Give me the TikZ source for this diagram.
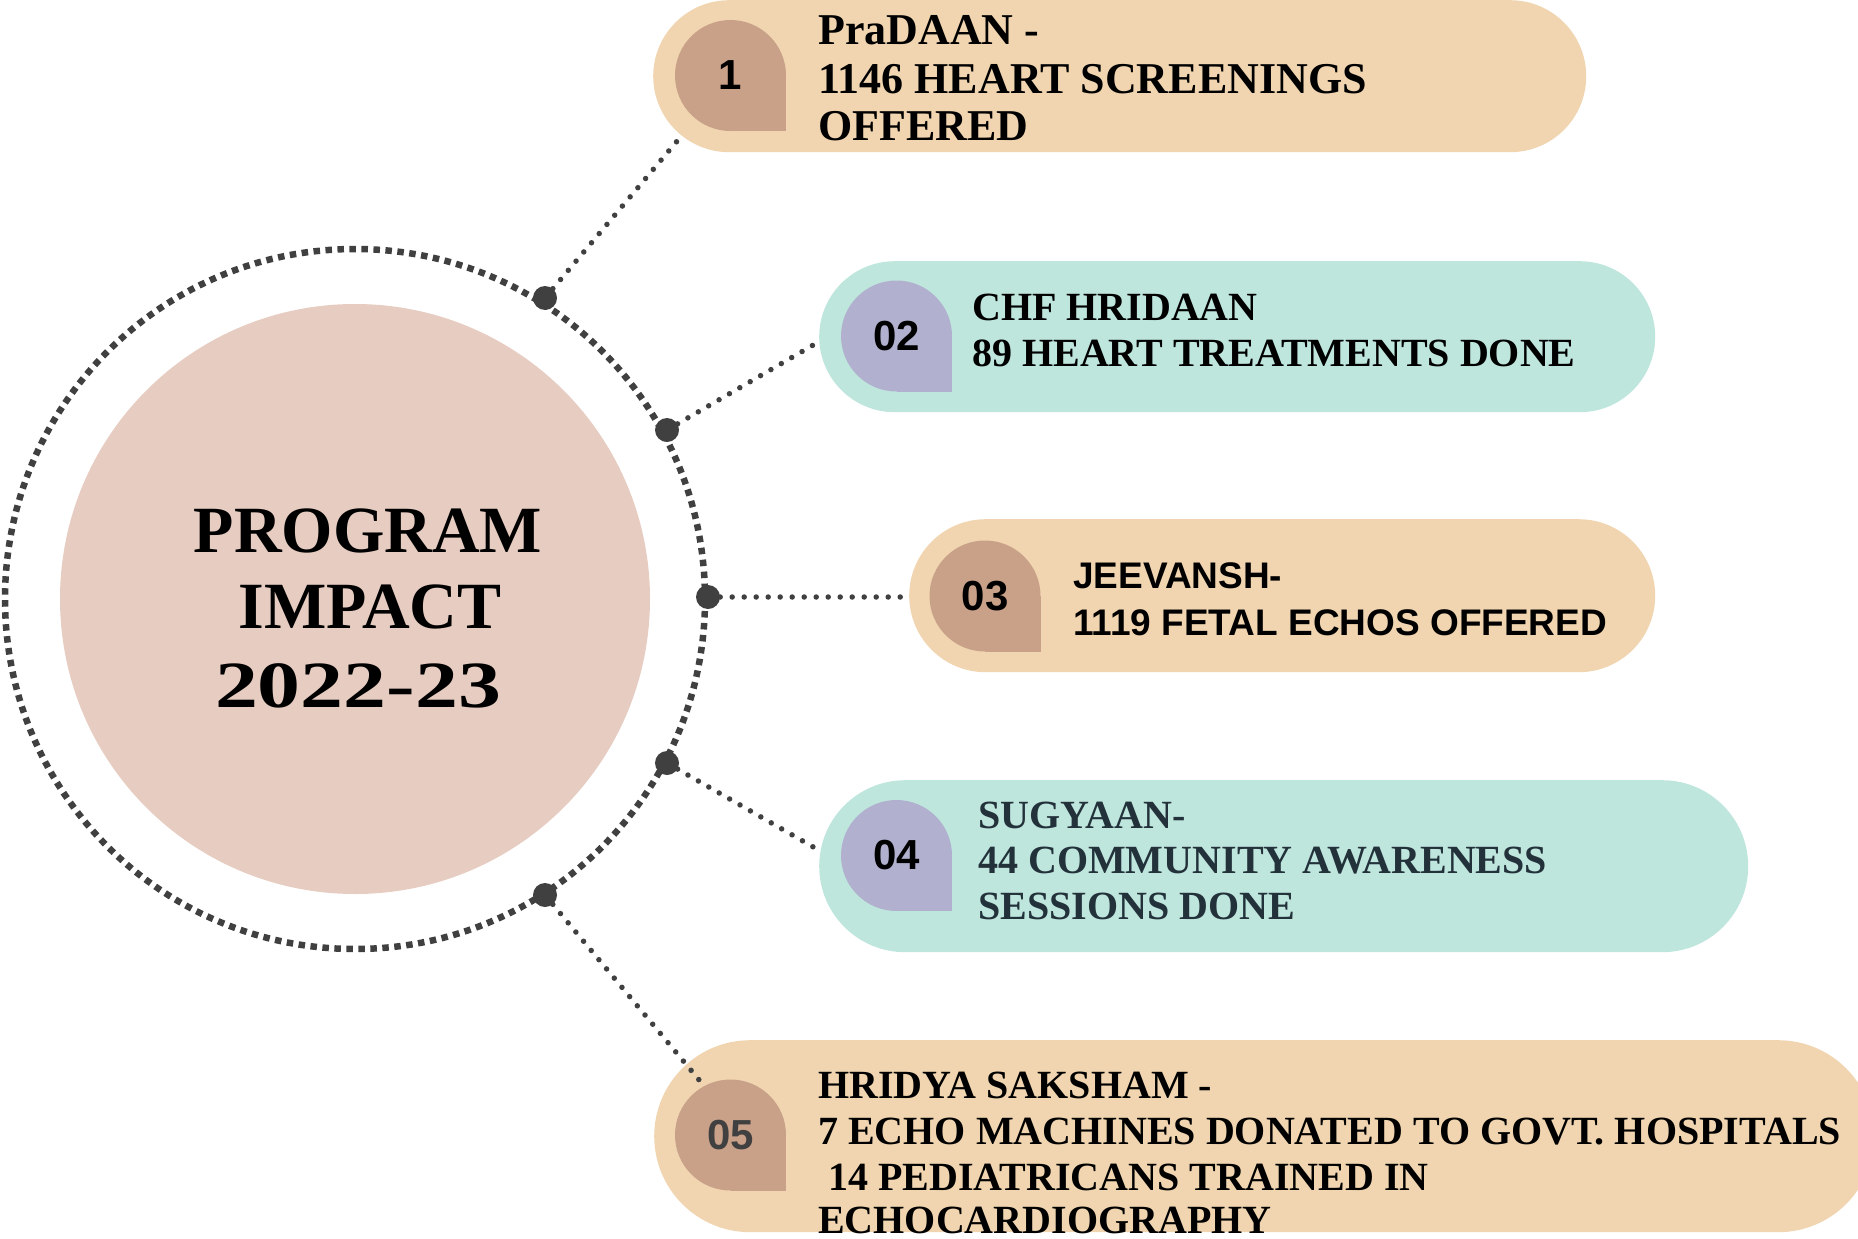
\documentclass[tikz,border=0pt]{standalone}
\usepackage{graphicx}
\usepackage{fontspec}
\setmainfont{Liberation Serif}
\newfontfamily\sansf{Liberation Sans}
\definecolor{pilltan}{HTML}{F0D5B0}
\definecolor{badgebrown}{HTML}{C9A088}
\definecolor{pillmint}{HTML}{BEE6DD}
\definecolor{badgelav}{HTML}{B1B1CF}
\definecolor{hubpink}{HTML}{E7CCC1}
\definecolor{dotgray}{HTML}{404040}
\definecolor{slatetext}{HTML}{22313A}
\tikzset{
  pillbox/.style={rectangle, inner sep=0pt, anchor=north west},
  badgenode/.style={circle, inner sep=0pt, minimum size=111pt, font=\sansf\bfseries\fontsize{42}{42}\selectfont},
  serifline/.style={anchor=base west, inner sep=0pt, font=\bfseries\fontsize{40}{46}\selectfont},
  bigserif/.style={anchor=base west, inner sep=0pt, font=\bfseries\fontsize{44}{47}\selectfont},
  sansline/.style={anchor=base west, inner sep=0pt, font=\sansf\bfseries\fontsize{37}{47}\selectfont},
  hubtext/.style={anchor=base, inner sep=0pt, font=\bfseries\fontsize{66}{77}\selectfont},
  linkline/.style={dotgray, line width=5.5pt, line cap=round, dash pattern=on 0pt off 12pt},
  hubdot/.style={circle, fill=dotgray, minimum size=24pt, inner sep=0pt},
}
\begin{document}
\begin{tikzpicture}[x=1pt,y=-1pt]
\useasboundingbox (0,0) rectangle (1858,1239);
\clip (0,0) rectangle (1858,1239);

% outer dotted ring and hub
\draw[dotgray, line width=6.5pt, dash pattern=on 6.5pt off 5.5pt] (355,599) circle[radius=350];
\node[circle, fill=hubpink, minimum size=590pt, inner sep=0pt] (hub) at (355,599) {};
\node[hubtext] (h1) at (368,552) {PROGRAM};
\node[hubtext] (h2) at (370,628) {IMPACT};
\node[hubtext] (h3) at (358,707) {\scalebox{1.3}[1]{2022-23}};

% pills
\node[pillbox, fill=pilltan, minimum width=933pt, minimum height=152pt, rounded corners=76pt] (p1) at (653,0) {};
\node[pillbox, fill=pillmint, minimum width=836pt, minimum height=151pt, rounded corners=75.5pt] (p2) at (819,261) {};
\node[pillbox, fill=pilltan, minimum width=746pt, minimum height=153pt, rounded corners=76.5pt] (p3) at (909,519) {};
\node[pillbox, fill=pillmint, minimum width=929pt, minimum height=172pt, rounded corners=86pt] (p4) at (819,780) {};
\node[pillbox, fill=pilltan, minimum width=1220pt, minimum height=192pt, rounded corners=96pt] (p5) at (654,1040) {};

% badges
\fill[badgebrown] (730.5,75.5) rectangle ++(55.5,55.5);
\node[badgenode, fill=badgebrown] (b1) at (730.5,75.5) {1};
\fill[badgelav] (896.5,336) rectangle ++(55.5,55.5);
\node[badgenode, fill=badgelav] (b2) at (896.5,336) {02};
\fill[badgebrown] (985,596) rectangle ++(55.5,55.5);
\node[badgenode, fill=badgebrown] (b3) at (985,596) {03};
\fill[badgelav] (896.5,855.5) rectangle ++(55.5,55.5);
\node[badgenode, fill=badgelav] (b4) at (896.5,855.5) {04};
\fill[badgebrown] (730.5,1135) rectangle ++(55.5,55.5);
\node[badgenode, fill=badgebrown, text=dotgray] (b5) at (730.5,1135) {05};

% texts
\node[bigserif] (t1a) at (818,45) {PraDAAN -};
\node[bigserif] (t1b) at (818,93) {1146 HEART SCREENINGS};
\node[bigserif] (t1c) at (818,140) {OFFERED};

\node[serifline] (t2a) at (972,320) {CHF HRIDAAN};
\node[serifline] (t2b) at (972,366) {89 HEART TREATMENTS DONE};

\node[sansline] (t3a) at (1073,588) {JEEVANSH-};
\node[sansline] (t3b) at (1073,635) {1119 FETAL ECHOS OFFERED};

\node[serifline, text=slatetext] (t4a) at (978,828) {SUGYAAN-};
\node[serifline, text=slatetext] (t4b) at (978,873) {44 COMMUNITY AWARENESS};
\node[serifline, text=slatetext] (t4c) at (978,919) {SESSIONS DONE};

\node[serifline] (t5a) at (818,1098) {HRIDYA SAKSHAM -};
\node[serifline] (t5b) at (818,1144) {7 ECHO MACHINES DONATED TO GOVT. HOSPITALS};
\node[serifline] (t5c) at (818,1190) {\ 14 PEDIATRICANS TRAINED IN};
\node[serifline] (t5d) at (818,1233) {ECHOCARDIOGRAPHY};

% dots on ring
\node[hubdot] (d1) at (545,298) {};
\node[hubdot] (d2) at (667,430) {};
\node[hubdot] (d3) at (708,597) {};
\node[hubdot] (d4) at (667,763) {};
\node[hubdot] (d5) at (545,895) {};

% connector ends
\coordinate (c1) at (678,140);
\coordinate (c2) at (815,344);
\coordinate (c3) at (904,597);
\coordinate (c4) at (815,848);
\coordinate (c5) at (700,1081);

\draw[linkline] (d1) -- (c1);
\draw[linkline] (d2) -- (c2);
\draw[linkline] (d3) -- (c3);
\draw[linkline] (d4) -- (c4);
\draw[linkline] (d5) -- (c5);
\end{tikzpicture}
\end{document}
